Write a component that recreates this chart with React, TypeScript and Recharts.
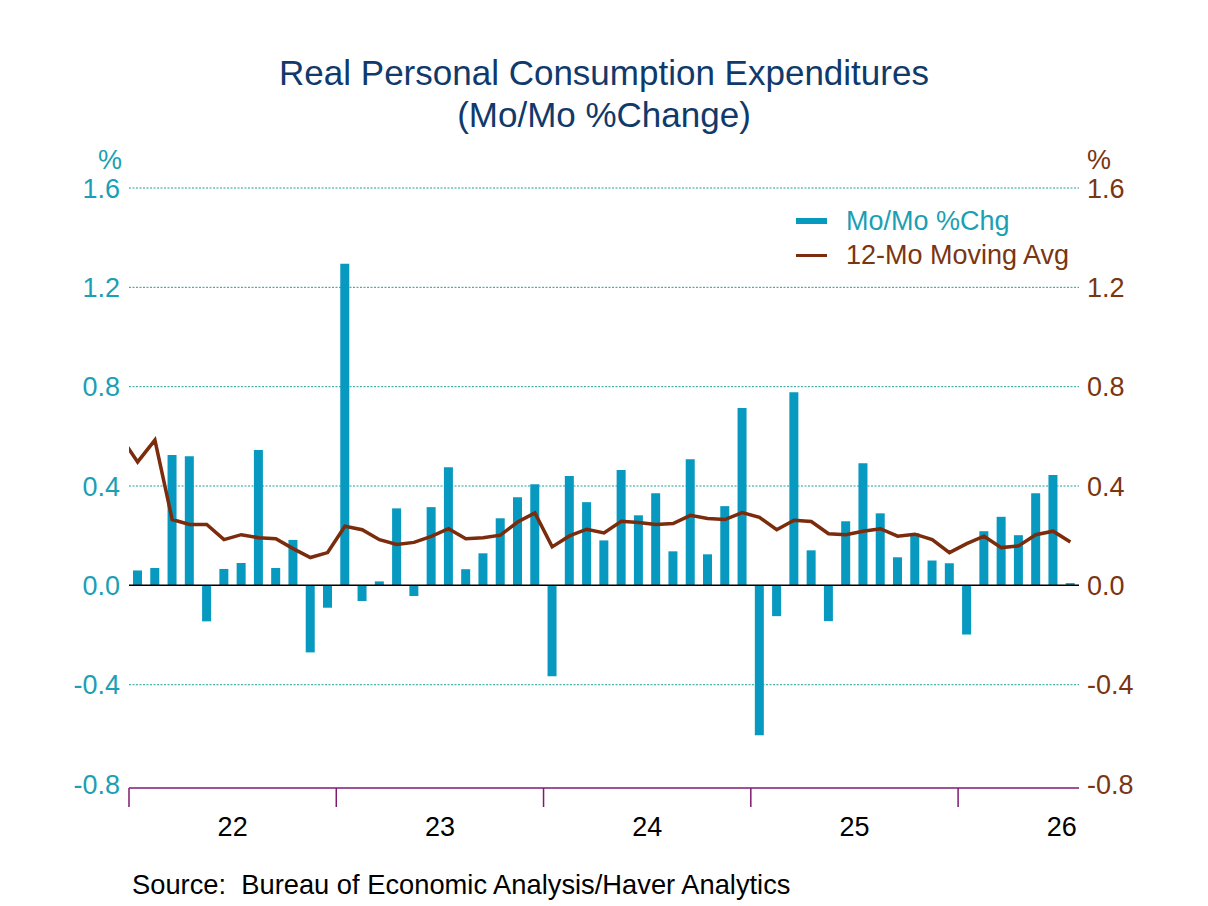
import React from 'react';
import { ComposedChart, Bar, Line, XAxis, YAxis, CartesianGrid, ReferenceLine, Legend } from 'recharts';

const FONT = '"Liberation Sans", Arial, Helvetica, sans-serif';

// Months (Dec-21 only used by the moving average, which starts off-plot)
const months = [
  'Dec-21',
  'Jan-22', 'Feb-22', 'Mar-22', 'Apr-22', 'May-22', 'Jun-22', 'Jul-22', 'Aug-22', 'Sep-22', 'Oct-22', 'Nov-22', 'Dec-22',
  'Jan-23', 'Feb-23', 'Mar-23', 'Apr-23', 'May-23', 'Jun-23', 'Jul-23', 'Aug-23', 'Sep-23', 'Oct-23', 'Nov-23', 'Dec-23',
  'Jan-24', 'Feb-24', 'Mar-24', 'Apr-24', 'May-24', 'Jun-24', 'Jul-24', 'Aug-24', 'Sep-24', 'Oct-24', 'Nov-24', 'Dec-24',
  'Jan-25', 'Feb-25', 'Mar-25', 'Apr-25', 'May-25', 'Jun-25', 'Jul-25', 'Aug-25', 'Sep-25', 'Oct-25', 'Nov-25', 'Dec-25',
  'Jan-26', 'Feb-26', 'Mar-26', 'Apr-26', 'May-26', 'Jun-26', 'Jul-26',
];

// Mo/Mo % change (bars)
const momChg = [
  null,
  0.06, 0.07, 0.525, 0.52, -0.145, 0.066, 0.09, 0.545, 0.07, 0.183, -0.27, -0.09,
  1.295, -0.063, 0.016, 0.31, -0.043, 0.315, 0.476, 0.065, 0.129, 0.27, 0.355, 0.407,
  -0.366, 0.44, 0.335, 0.181, 0.464, 0.282, 0.371, 0.137, 0.508, 0.125, 0.319, 0.714,
  -0.604, -0.124, 0.778, 0.141, -0.144, 0.258, 0.492, 0.29, 0.113, 0.21, 0.10, 0.089,
  -0.198, 0.218, 0.276, 0.202, 0.371, 0.444, 0.009,
];

// 12-Mo moving average (line)
const movingAvg = [
  0.60,
  0.497, 0.585, 0.265, 0.245, 0.245, 0.184, 0.204, 0.192, 0.188, 0.148, 0.112, 0.132,
  0.238, 0.224, 0.184, 0.165, 0.173, 0.197, 0.228, 0.188, 0.192, 0.202, 0.255, 0.292,
  0.155, 0.199, 0.226, 0.211, 0.258, 0.253, 0.245, 0.249, 0.282, 0.269, 0.265, 0.293,
  0.274, 0.224, 0.262, 0.257, 0.208, 0.204, 0.218, 0.228, 0.198, 0.206, 0.184, 0.132,
  0.168, 0.198, 0.152, 0.159, 0.204, 0.218, 0.175,
];

const yTicks = [-0.8, -0.4, 0, 0.4, 0.8, 1.2, 1.6];
const gridValues = [-0.4, 0.4, 0.8, 1.2, 1.6];
const yearBoundaries = [0, 12, 24, 36, 48];
const yearLabelPos = [6, 18, 30, 42, 54];
const yearLabels = ['22', '23', '24', '25', '26'];

const data = months.map((m, i) => ({ month: m, x: i - 0.5, mom: momChg[i], avg: movingAvg[i] }));

const TEAL_BAR = '#0799bf';
const BROWN = '#7a2c0c';
const TEAL_TXT = '#1a9fb4';
const BROWN_TXT = '#7a3512';
const PURPLE = '#7f1a72';
const NAVY = '#0f3a6b';

const LegendContent = (props: any) => {
  const payload = [...(props.payload || [])].sort((a: any, b: any) =>
    (a.type === 'line' ? 1 : 0) - (b.type === 'line' ? 1 : 0)
  );
  return (
    <div style={{ fontFamily: FONT, fontSize: 27 }}>
      {payload.map((p: any) => (
        <div key={p.value} style={{ display: 'flex', alignItems: 'center', height: 34, lineHeight: '34px' }}>
          <div
            style={{
              width: 31,
              height: p.type === 'line' ? 3 : 6,
              background: p.color,
              marginRight: 19,
            }}
          />
          <span style={{ color: p.type === 'line' ? BROWN_TXT : TEAL_TXT, whiteSpace: 'nowrap' }}>{p.value}</span>
        </div>
      ))}
    </div>
  );
};

export default function App() {
  return (
    <div style={{ position: 'absolute', left: 0, top: 0, width: 1208, height: 906, background: '#fff', fontFamily: FONT }}>
      <div style={{ position: 'absolute', top: 52, left: 0, width: 1208, textAlign: 'center', color: NAVY, fontSize: 35, lineHeight: '42px' }}>
        <div>Real Personal Consumption Expenditures</div>
        <div>(Mo/Mo %Change)</div>
      </div>
      <div style={{ position: 'absolute', top: 150, left: 0, width: 122, textAlign: 'right', color: TEAL_TXT, fontSize: 27, lineHeight: '20px' }}>%</div>
      <div style={{ position: 'absolute', top: 150, left: 1087, color: BROWN_TXT, fontSize: 27, lineHeight: '20px' }}>%</div>
      <ComposedChart
        width={1208}
        height={906}
        data={data}
        margin={{ top: 188, right: 69, bottom: 78, left: 69 }}
        style={{ position: 'absolute', left: 0, top: 0 }}
      >
        <CartesianGrid
          xAxisId="a"
          yAxisId="left"
          vertical={false}
          horizontalValues={gridValues}
          stroke="#1fa19c"
          strokeDasharray="2 1.5"
        />
        <XAxis
          xAxisId="b"
          type="number"
          dataKey="x"
          domain={[0, 55]}
          allowDataOverflow
          ticks={yearLabelPos}
          tickFormatter={(v: number) => yearLabels[yearLabelPos.indexOf(v)] ?? ''}
          tickLine={false}
          axisLine={false}
          tickSize={0}
          tickMargin={28}
          tick={{ fill: '#000', fontSize: 27, fontFamily: FONT }}
          height={39}
        />
        <XAxis
          xAxisId="a"
          type="number"
          dataKey="x"
          domain={[0, 55]}
          allowDataOverflow
          ticks={yearBoundaries}
          tickFormatter={() => ''}
          tickSize={19}
          tickLine={{ stroke: PURPLE, strokeWidth: 1.5 }}
          axisLine={{ stroke: PURPLE, strokeWidth: 1.5 }}
          stroke={PURPLE}
          height={1}
        />
        <YAxis
          yAxisId="left"
          domain={[-0.816, 1.6]}
          allowDataOverflow
          ticks={yTicks}
          tickFormatter={(v: number) => v.toFixed(1)}
          tickLine={false}
          axisLine={false}
          tickSize={0}
          tickMargin={9}
          width={60}
          tick={{ fill: TEAL_TXT, fontSize: 27, fontFamily: FONT }}
        />
        <YAxis
          yAxisId="right"
          orientation="right"
          domain={[-0.816, 1.6]}
          allowDataOverflow
          ticks={yTicks}
          tickFormatter={(v: number) => v.toFixed(1)}
          tickLine={false}
          axisLine={false}
          tickSize={0}
          tickMargin={8}
          width={60}
          tick={{ fill: BROWN_TXT, fontSize: 27, fontFamily: FONT, textAnchor: 'start' }}
        />
        <Bar
          xAxisId="a"
          yAxisId="left"
          dataKey="mom"
          name="Mo/Mo %Chg"
          fill={TEAL_BAR}
          barSize={9}
          isAnimationActive={false}
        />
        <ReferenceLine xAxisId="a" yAxisId="left" y={0} stroke="#000" strokeWidth={1.5} />
        <Line
          xAxisId="a"
          yAxisId="right"
          dataKey="avg"
          name="12-Mo Moving Avg"
          type="linear"
          stroke={BROWN}
          strokeWidth={3.5}
          dot={false}
          activeDot={false}
          isAnimationActive={false}
        />
        <Legend
          layout="horizontal"
          verticalAlign="middle"
          align="center"
          content={<LegendContent />}
          wrapperStyle={{ top: 204, left: 796, width: 320 }}
        />
      </ComposedChart>
      <div style={{ position: 'absolute', top: 870, left: 132, color: '#000', fontSize: 27.3, lineHeight: '30px', whiteSpace: 'pre' }}>
        {'Source:  Bureau of Economic Analysis/Haver Analytics'}
      </div>
    </div>
  );
}
